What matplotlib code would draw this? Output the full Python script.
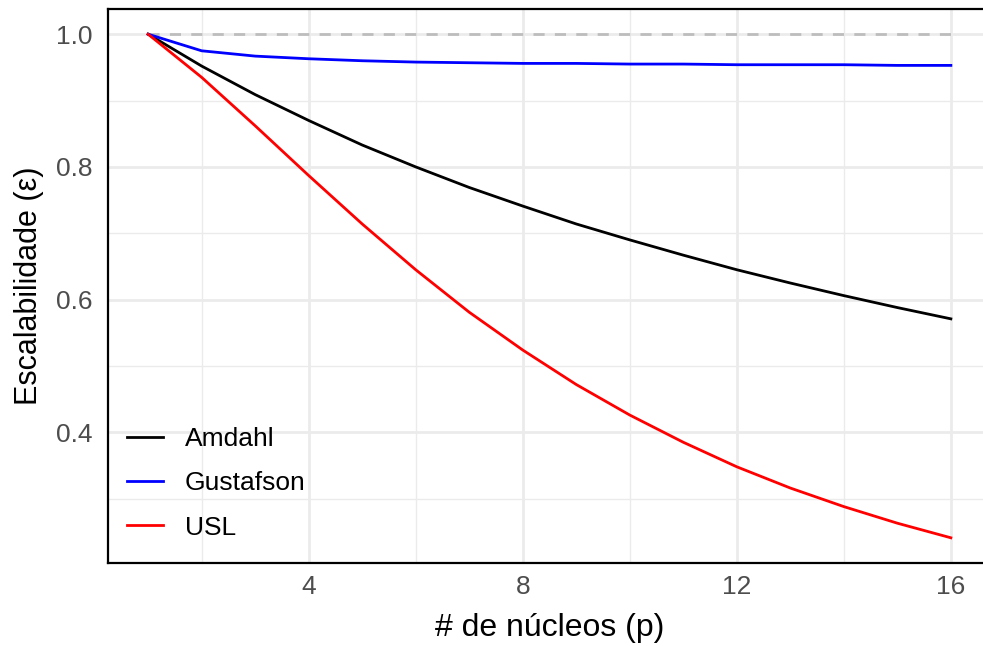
import matplotlib
matplotlib.use("Agg")
import matplotlib.pyplot as plt

plt.rcParams["font.family"] = ["Liberation Sans", "DejaVu Sans"]

# nucleos
p = list(range(1, 17))

# eficiencia
amdahl = [1.000, 0.952, 0.909, 0.870, 0.833, 0.800, 0.769, 0.741,
          0.714, 0.690, 0.667, 0.645, 0.625, 0.606, 0.588, 0.571]
gustafson = [1.000, 0.975, 0.967, 0.963, 0.960, 0.958, 0.957, 0.956,
             0.956, 0.955, 0.955, 0.954, 0.954, 0.954, 0.953, 0.953]
usl = [1.000, 0.935, 0.862, 0.787, 0.714, 0.645, 0.581, 0.524,
       0.472, 0.426, 0.385, 0.348, 0.316, 0.288, 0.263, 0.241]

series = [("Amdahl", amdahl, "black"),
          ("Gustafson", gustafson, "blue"),
          ("USL", usl, "red")]

x_major = [4, 8, 12, 16]
x_minor = [2, 6, 10, 14]
y_major = [0.4, 0.6, 0.8, 1.0]
y_minor = [0.3, 0.5, 0.7, 0.9]

fig = plt.figure(figsize=(9.83, 6.46), dpi=100)
ax = fig.add_axes([108 / 983, 83 / 646, 883 / 983, 554 / 646])

ax.set_xlim(0.25, 16.75)
ax.set_ylim(0.203, 1.038)

ax.set_xticks(x_major)
ax.set_xticks(x_minor, minor=True)
ax.set_yticks(y_major)
ax.set_yticks(y_minor, minor=True)
ax.set_yticklabels(["%.1f" % v for v in y_major])

ax.grid(True, which="major", color="#ebebeb", linewidth=2.0)
ax.grid(True, which="minor", color="#ebebeb", linewidth=1.0)
ax.set_axisbelow(True)

ax.tick_params(which="both", length=0, labelsize=19, labelcolor="#4d4d4d")
ax.tick_params(axis="y", pad=11)
ax.tick_params(axis="x", pad=9)

for side in ["top", "left", "bottom"]:
    ax.spines[side].set_linewidth(1.6)
    ax.spines[side].set_color("black")
ax.spines["right"].set_visible(False)

# referencia em 1.0
ax.plot([p[0], p[-1]], [1.0, 1.0], color="#bdbdbd", linewidth=2.0,
        linestyle=(0, (4, 3.7)))

for name, vals, col in series:
    ax.plot(p, vals, color=col, linewidth=2.0, label=name)

ax.set_xlabel("# de núcleos (p)", fontsize=23, labelpad=10)
ax.set_ylabel("Escalabilidade (ε)", fontsize=22, labelpad=9)

ax.legend(loc="lower left", frameon=False, fontsize=19, handlelength=1.36,
          handletextpad=0.83, labelspacing=0.77, borderaxespad=0.32,
          bbox_to_anchor=(0.0, 0.008))

fig.savefig("out.png", dpi=100)
